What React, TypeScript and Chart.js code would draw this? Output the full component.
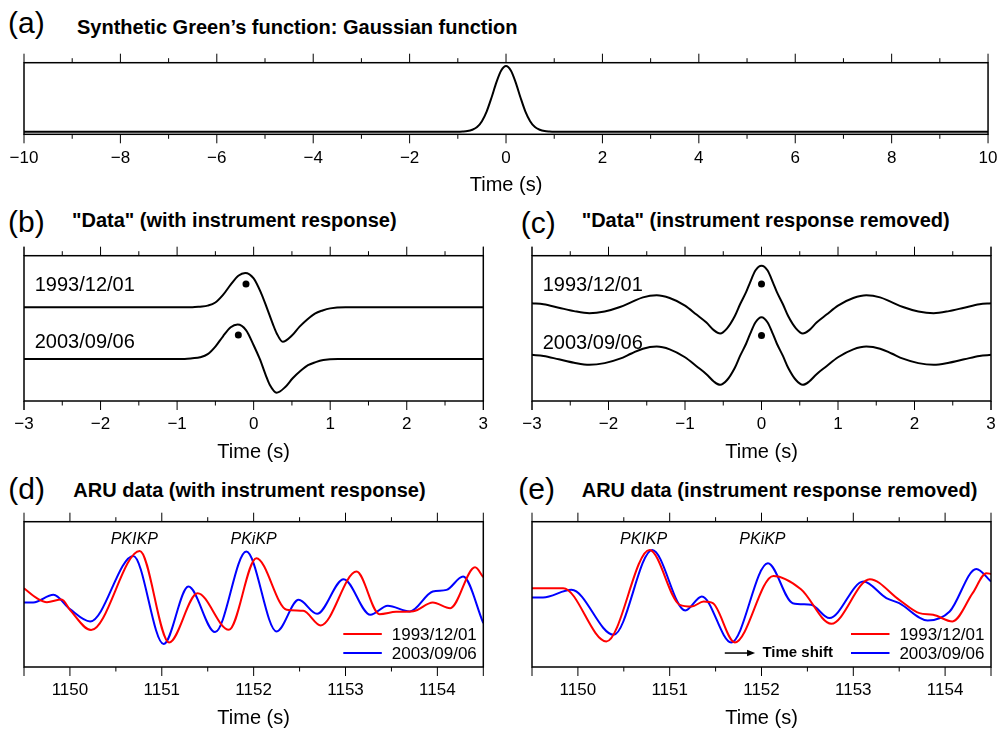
import React, { useEffect, useRef } from 'react';
import { Chart, registerables } from 'chart.js';
Chart.register(...registerables);

const FONT = "'Liberation Sans', Arial, Helvetica, sans-serif";
Chart.defaults.font.family = FONT;
Chart.defaults.color = '#000';

// ---------- Panel (a): Gaussian ----------
const A_TICKS = [-10, -8, -6, -4, -2, 0, 2, 4, 6, 8, 10];
const A_MINOR = [-9, -7, -5, -3, -1, 1, 3, 5, 7, 9];
const A_GAUSS: [number, number][] = [
  [-10, 0], [-1.0, 0], [-0.9, 0.003], [-0.8, 0.01], [-0.7, 0.03], [-0.6, 0.07], [-0.5, 0.16],
  [-0.4, 0.31], [-0.3, 0.52], [-0.2, 0.75], [-0.1, 0.93], [0, 1], [0.1, 0.93], [0.2, 0.75],
  [0.3, 0.52], [0.4, 0.31], [0.5, 0.16], [0.6, 0.07], [0.7, 0.03], [0.8, 0.01], [0.9, 0.003],
  [1.0, 0], [10, 0],
];

// ---------- Panels (b), (c): synthetic "data" ----------
const BC_TICKS = [-3, -2, -1, 0, 1, 2, 3];
const BC_EDGES = [-3, 3];
const BC_MINOR = [-2.5, -1.5, -0.5, 0.5, 1.5, 2.5];
const TRACE_NAMES = ['1993/12/01', '2003/09/06'];
const TRACE_OFFSETS = [1.5, 0];

const B_1993: [number, number][] = [
  [-3, 0], [-0.8, 0], [-0.7, 0.02], [-0.6, 0.05], [-0.5, 0.14], [-0.4, 0.36], [-0.3, 0.66],
  [-0.2, 0.92], [-0.11, 1.0], [0, 0.84], [0.1, 0.4], [0.17, 0], [0.25, -0.48], [0.3, -0.75],
  [0.38, -1.0], [0.5, -0.82], [0.6, -0.56], [0.7, -0.35], [0.8, -0.18], [0.9, -0.09],
  [1.0, -0.03], [1.2, 0], [3, 0],
];
const B_2003: [number, number][] = [
  [-3, 0], [-0.9, 0], [-0.8, 0.02], [-0.7, 0.05], [-0.6, 0.14], [-0.5, 0.36], [-0.4, 0.66],
  [-0.3, 0.92], [-0.21, 1.0], [-0.1, 0.84], [0, 0.4], [0.08, 0], [0.16, -0.48], [0.21, -0.75],
  [0.3, -0.98], [0.41, -0.82], [0.51, -0.56], [0.61, -0.35], [0.71, -0.18], [0.81, -0.09],
  [0.91, -0.03], [1.1, 0], [3, 0],
];
const C_1993: [number, number][] = [
  [-3, 0.03], [-2.85, 0.0], [-2.65, -0.1], [-2.45, -0.2], [-2.25, -0.26], [-2.05, -0.21],
  [-1.85, -0.08], [-1.7, 0.06], [-1.55, 0.2], [-1.37, 0.26], [-1.2, 0.18], [-1.0, -0.04],
  [-0.85, -0.3], [-0.72, -0.53], [-0.62, -0.76], [-0.54, -0.85], [-0.45, -0.7], [-0.35, -0.35],
  [-0.28, 0], [-0.2, 0.36], [-0.15, 0.63], [-0.08, 0.98], [0, 1.12], [0.08, 0.98], [0.15, 0.63],
  [0.2, 0.36], [0.28, 0], [0.35, -0.35], [0.45, -0.7], [0.54, -0.85], [0.62, -0.76], [0.72, -0.53],
  [0.85, -0.3], [1.0, -0.04], [1.2, 0.18], [1.37, 0.26], [1.55, 0.2], [1.7, 0.06], [1.85, -0.08],
  [2.05, -0.21], [2.25, -0.26], [2.45, -0.2], [2.65, -0.1], [2.85, 0.0], [3, 0.03],
];
const C_2003: [number, number][] = [
  [-3, 0.03], [-2.85, 0.0], [-2.65, -0.1], [-2.45, -0.2], [-2.25, -0.26], [-2.05, -0.21],
  [-1.85, -0.08], [-1.7, 0.07], [-1.55, 0.21], [-1.37, 0.27], [-1.2, 0.19], [-1.0, -0.04],
  [-0.85, -0.3], [-0.72, -0.53], [-0.62, -0.75], [-0.54, -0.84], [-0.45, -0.7], [-0.35, -0.35],
  [-0.28, 0], [-0.2, 0.36], [-0.15, 0.63], [-0.08, 0.97], [0, 1.12], [0.08, 0.97], [0.15, 0.63],
  [0.2, 0.36], [0.28, 0], [0.35, -0.35], [0.45, -0.7], [0.54, -0.84], [0.62, -0.75], [0.72, -0.53],
  [0.85, -0.3], [1.0, -0.04], [1.2, 0.19], [1.37, 0.27], [1.55, 0.21], [1.7, 0.07], [1.85, -0.08],
  [2.05, -0.21], [2.25, -0.26], [2.45, -0.2], [2.65, -0.1], [2.85, 0.0], [3, 0.03],
];
const B_PICKS: [number, number][] = [[-0.1, 0.68], [-0.2, 0.7]];
const C_PICKS: [number, number][] = [[0, 0.59], [0, 0.59]];

// ---------- Panels (d), (e): ARU data ----------
const DE_TICKS = [1150, 1151, 1152, 1153, 1154];
const DE_EDGES = [1149.5, 1154.5];
const DE_MINOR = [1150.5, 1151.5, 1152.5, 1153.5];
const PHASES = ['PKIKP', 'PKiKP'];
const D_PHASE_T = [1150.7, 1152.0];
const E_PHASE_T = [1150.715, 1152.01];
const COLORS = ['#ff0000', '#0000ff'];

const D_1993: [number, number][] = [
  [1149.5, 0.45], [1149.64, 0.15], [1149.75, 0.03], [1149.91, 0.11], [1150.0, -0.2],
  [1150.23, -0.81], [1150.76, 1.57], [1151.08, -1.18], [1151.39, 0.3], [1151.73, -0.8],
  [1152.03, 1.35], [1152.36, -0.2], [1152.54, -0.23], [1152.73, -0.67], [1153.12, 0.95],
  [1153.37, -0.33], [1153.55, -0.26], [1153.74, -0.24], [1153.95, 0.02], [1154.14, -0.15],
  [1154.41, 1.08], [1154.5, 0.78],
];
const D_2003: [number, number][] = [
  [1149.5, 0.02], [1149.6, 0.02], [1149.82, 0.25], [1150.0, -0.18], [1150.22, -0.55],
  [1150.69, 1.42], [1151.02, -1.23], [1151.29, 0.5], [1151.58, -0.87], [1151.92, 1.55],
  [1152.25, -0.85], [1152.49, 0.1], [1152.69, -0.32], [1152.98, 0.72], [1153.27, -0.35],
  [1153.46, -0.08], [1153.7, -0.25], [1153.95, 0.35], [1154.1, 0.4], [1154.28, 0.8],
  [1154.5, -0.6],
];
const E_1993: [number, number][] = [
  [1149.5, 0.45], [1149.84, 0.45], [1150.31, -1.15], [1150.78, 1.6], [1151.11, -0.05],
  [1151.24, -0.1], [1151.37, 0.05], [1151.47, 0.0], [1151.71, -1.18], [1152.13, 0.82],
  [1152.43, 0.42], [1152.76, -0.62], [1153.18, 0.72], [1153.5, 0.1], [1153.72, -0.3],
  [1153.87, -0.35], [1154.08, -0.55], [1154.3, 0.3], [1154.45, 0.9], [1154.5, 0.88],
];
const E_2003: [number, number][] = [
  [1149.5, 0.17], [1149.62, 0.17], [1149.93, 0.4], [1150.39, -0.95], [1150.81, 1.6],
  [1151.17, -0.22], [1151.35, 0.2], [1151.67, -1.18], [1152.07, 1.2], [1152.34, 0.0],
  [1152.54, -0.05], [1152.74, -0.45], [1153.11, 0.65], [1153.36, 0.15], [1153.5, 0.0],
  [1153.81, -0.52], [1154.05, -0.25], [1154.34, 1.03], [1154.5, 0.65],
];

// ---------- helpers ----------
const fmt = (v: number) => String(v).replace('-', '\u2212');

const decoPlugin = {
  id: 'deco',
  afterDatasetsDraw(chart: any, _args: any, o: any) {
    const { ctx, chartArea: ca } = chart;
    const xs = chart.scales.x;
    const ys = chart.scales.y;
    ctx.save();
    ctx.strokeStyle = '#000';
    ctx.lineWidth = 1;
    const tick = (v: number, len: number) => {
      const p = xs.getPixelForValue(v);
      ctx.beginPath();
      ctx.moveTo(p, ca.top);
      ctx.lineTo(p, ca.top - len);
      ctx.moveTo(p, ca.bottom);
      ctx.lineTo(p, ca.bottom + len);
      ctx.stroke();
    };
    (o.major || []).forEach((v: number) => tick(v, 9));
    (o.minor || []).forEach((v: number) => tick(v, 4.5));
    ctx.lineWidth = 1.5;
    ctx.strokeRect(ca.left, ca.top, ca.right - ca.left, ca.bottom - ca.top);
    ctx.fillStyle = '#000';
    ctx.textBaseline = 'middle';
    (o.labels || []).forEach((l: any) => {
      ctx.font = l.font;
      ctx.textAlign = l.align || 'left';
      ctx.fillText(l.text, xs.getPixelForValue(l.x), ys.getPixelForValue(l.y));
    });
    if (o.arrow) {
      const a = o.arrow;
      const x1 = xs.getPixelForValue(a.x1);
      const x2 = xs.getPixelForValue(a.x2);
      const y = ys.getPixelForValue(a.y);
      ctx.lineWidth = 1.5;
      ctx.beginPath();
      ctx.moveTo(x1, y);
      ctx.lineTo(x2 - 6, y);
      ctx.stroke();
      ctx.beginPath();
      ctx.moveTo(x2, y);
      ctx.lineTo(x2 - 8, y - 3.3);
      ctx.lineTo(x2 - 8, y + 3.3);
      ctx.closePath();
      ctx.fill();
    }
    if (o.legend) {
      o.legend.forEach((it: any, i: number) => {
        const y = ca.bottom - 33 + i * 19;
        ctx.strokeStyle = it.color;
        ctx.lineWidth = 2;
        ctx.beginPath();
        ctx.moveTo(ca.right - 140, y);
        ctx.lineTo(ca.right - 101.5, y);
        ctx.stroke();
        ctx.fillStyle = '#000';
        ctx.font = `17px ${FONT}`;
        ctx.textAlign = 'right';
        ctx.fillText(it.text, ca.right - 6.5, y + 1);
      });
    }
    ctx.restore();
  },
};

const trace = (pts: [number, number][], offset: number, color: string) => ({
  data: pts.map(([t, v]) => ({ x: t, y: v + offset })),
  borderColor: color,
  borderWidth: 2,
  pointRadius: 0,
  fill: false,
  cubicInterpolationMode: 'monotone',
});

const dots = (pts: [number, number][], offsets: number[]) => ({
  data: pts.map(([t, v], i) => ({ x: t, y: v + offsets[i] })),
  showLine: false,
  pointRadius: 3.5,
  pointBackgroundColor: '#000',
  pointBorderWidth: 0,
  borderColor: '#000',
});

function makeConfig(p: any) {
  return {
    type: 'line',
    data: { datasets: p.datasets },
    options: {
      responsive: false,
      animation: false,
      devicePixelRatio: 1,
      events: [],
      layout: { padding: p.padding },
      plugins: {
        legend: { display: false },
        tooltip: { enabled: false },
        title: { display: false },
        deco: p.deco,
      },
      scales: {
        x: {
          type: 'linear',
          min: p.xMin,
          max: p.xMax,
          afterBuildTicks: (ax: any) => {
            ax.ticks = p.ticks.map((value: number) => ({ value }));
          },
          ticks: {
            autoSkip: false,
            maxRotation: 0,
            padding: 4.5,
            color: '#000',
            font: { family: FONT, size: 17 },
            callback: (v: number) => fmt(v),
          },
          grid: { display: false, drawTicks: true, tickLength: 9 },
          border: { display: false },
          title: {
            display: true,
            text: 'Time (s)',
            color: '#000',
            font: { family: FONT, size: 20, lineHeight: 1 },
            padding: { top: 2.6, bottom: 0 },
          },
        },
        y: { type: 'linear', display: false, min: p.yMin, max: p.yMax },
      },
    },
    plugins: [decoPlugin],
  };
}

function Panel({ left, top, width, height, config }: any) {
  const ref = useRef<HTMLCanvasElement>(null);
  useEffect(() => {
    const chart = new Chart(ref.current as HTMLCanvasElement, config);
    return () => chart.destroy();
  }, []);
  return (
    <canvas
      ref={ref}
      width={width}
      height={height}
      style={{ position: 'absolute', left, top, width, height }}
    />
  );
}

function Txt({ x, baseline, size, bold, children }: any) {
  return (
    <div
      style={{
        position: 'absolute',
        left: x,
        top: baseline - 0.3465 * size,
        fontSize: size,
        lineHeight: 0,
        fontWeight: bold ? 'bold' : 'normal',
        whiteSpace: 'nowrap',
        fontFamily: FONT,
        color: '#000',
      }}
    >
      {children}
    </div>
  );
}

const textLabel = (text: string, x: number, y: number, font: string, align = 'left') => ({ text, x, y, font, align });

export default function App() {
  const cfgA = makeConfig({
    datasets: [trace(A_GAUSS, 0, '#000')],
    xMin: -10, xMax: 10, yMin: -0.04, yMax: 1.05,
    ticks: A_TICKS,
    padding: { left: 24, right: 10.7, top: 17.7, bottom: 2.7 },
    deco: { major: A_TICKS, minor: A_MINOR },
  });

  const cfgB = makeConfig({
    datasets: [
      trace(B_1993, TRACE_OFFSETS[0], '#000'),
      trace(B_2003, TRACE_OFFSETS[1], '#000'),
      dots(B_PICKS, TRACE_OFFSETS),
    ],
    xMin: -3, xMax: 3, yMin: -1.22, yMax: 3.0,
    ticks: BC_TICKS,
    padding: { left: 24, right: 16.7, top: 17.7, bottom: 2 },
    deco: {
      major: [...BC_TICKS, ...BC_EDGES], minor: BC_MINOR,
      labels: [
        textLabel(TRACE_NAMES[0], -2.86, 2.13, `20px ${FONT}`),
        textLabel(TRACE_NAMES[1], -2.86, 0.48, `20px ${FONT}`),
      ],
    },
  });

  const cfgC = makeConfig({
    datasets: [
      trace(C_1993, TRACE_OFFSETS[0], '#000'),
      trace(C_2003, TRACE_OFFSETS[1], '#000'),
      dots(C_PICKS, TRACE_OFFSETS),
    ],
    xMin: -3, xMax: 3, yMin: -1.31, yMax: 2.91,
    ticks: BC_TICKS,
    padding: { left: 32, right: 11, top: 17.7, bottom: 2 },
    deco: {
      major: [...BC_TICKS, ...BC_EDGES], minor: BC_MINOR,
      labels: [
        textLabel(TRACE_NAMES[0], -2.86, 2.04, `20px ${FONT}`),
        textLabel(TRACE_NAMES[1], -2.86, 0.37, `20px ${FONT}`),
      ],
    },
  });

  const legendItems = TRACE_NAMES.map((text, i) => ({ text, color: COLORS[i] }));

  const cfgD = makeConfig({
    datasets: [trace(D_1993, 0, COLORS[0]), trace(D_2003, 0, COLORS[1])],
    xMin: 1149.5, xMax: 1154.5, yMin: -1.92, yMax: 2.45,
    ticks: DE_TICKS,
    padding: { left: 24, right: 16.7, top: 17.7, bottom: 1 },
    deco: {
      major: [...DE_TICKS, ...DE_EDGES], minor: DE_MINOR,
      labels: PHASES.map((ph, i) => textLabel(ph, D_PHASE_T[i], 1.9, `italic 16px ${FONT}`, 'center')),
      legend: legendItems,
    },
  });

  const cfgE = makeConfig({
    datasets: [trace(E_1993, 0, COLORS[0]), trace(E_2003, 0, COLORS[1])],
    xMin: 1149.5, xMax: 1154.5, yMin: -1.92, yMax: 2.45,
    ticks: DE_TICKS,
    padding: { left: 32, right: 11, top: 17.7, bottom: 1 },
    deco: {
      major: [...DE_TICKS, ...DE_EDGES], minor: DE_MINOR,
      labels: [
        ...PHASES.map((ph, i) => textLabel(ph, E_PHASE_T[i], 1.9, `italic 16px ${FONT}`, 'center')),
        textLabel('Time shift', 1152.01, -1.5, `bold 15px ${FONT}`),
      ],
      arrow: { x1: 1151.6, x2: 1151.93, y: -1.5 },
      legend: legendItems,
    },
  });

  return (
    <div
      style={{
        position: 'fixed', left: 0, top: 0, width: 1002, height: 729,
        overflow: 'hidden', background: '#fff', fontFamily: FONT,
      }}
    >
      <Txt x={8} baseline={33.3} size={30}>(a)</Txt>
      <Txt x={77} baseline={34} size={20} bold>Synthetic Green’s function: Gaussian function</Txt>
      <Txt x={8} baseline={232.7} size={30}>(b)</Txt>
      <Txt x={72} baseline={227.3} size={20} bold>"Data" (with instrument response)</Txt>
      <Txt x={520.7} baseline={233.3} size={30}>(c)</Txt>
      <Txt x={581.7} baseline={227.3} size={20} bold>"Data" (instrument response removed)</Txt>
      <Txt x={8.3} baseline={499} size={30}>(d)</Txt>
      <Txt x={73.3} baseline={496.7} size={20} bold>ARU data (with instrument response)</Txt>
      <Txt x={518.3} baseline={499} size={30}>(e)</Txt>
      <Txt x={581.7} baseline={496.7} size={20} bold>ARU data (instrument response removed)</Txt>

      <Panel left={0} top={45} width={1002} height={153} config={cfgA} />
      <Panel left={0} top={238} width={500} height={226} config={cfgB} />
      <Panel left={500} top={238} width={502} height={226} config={cfgC} />
      <Panel left={0} top={504} width={500} height={225} config={cfgD} />
      <Panel left={500} top={504} width={502} height={225} config={cfgE} />
    </div>
  );
}
